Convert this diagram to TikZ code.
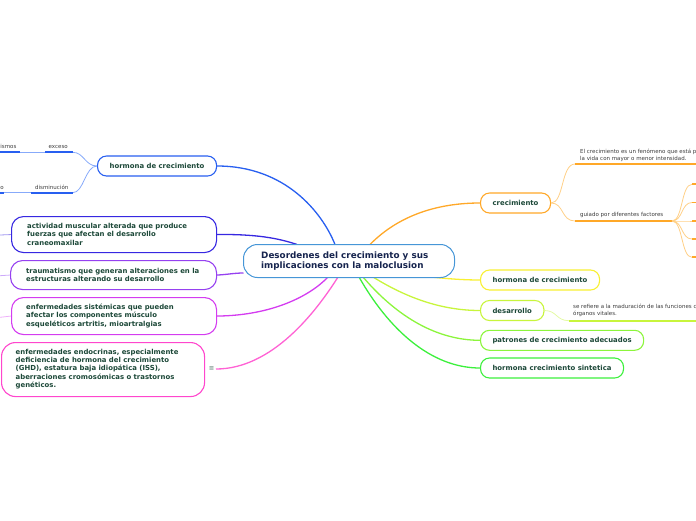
\documentclass[tikz,border=0pt]{standalone}
\usepackage{fontspec}
\setmainfont{DejaVu Sans}
\definecolor{txtg}{RGB}{28,72,56}
\definecolor{navy}{RGB}{22,36,78}
\definecolor{lblc}{RGB}{60,60,60}
\definecolor{cblue}{RGB}{40,95,240}
\definecolor{cblueL}{RGB}{135,170,250}
\definecolor{cindigo}{RGB}{55,40,225}
\definecolor{cindigoL}{RGB}{160,150,240}
\definecolor{cpurple}{RGB}{150,65,240}
\definecolor{cpurpleL}{RGB}{205,170,250}
\definecolor{cviolet}{RGB}{212,60,240}
\definecolor{cvioletL}{RGB}{238,175,250}
\definecolor{cpink}{RGB}{255,70,205}
\definecolor{corange}{RGB}{255,168,40}
\definecolor{corangeL}{RGB}{255,208,135}
\definecolor{cyellow}{RGB}{248,240,50}
\definecolor{clime}{RGB}{200,245,60}
\definecolor{climeL}{RGB}{228,250,165}
\definecolor{cgreen}{RGB}{140,245,60}
\definecolor{cgreen2}{RGB}{60,240,60}
\definecolor{ccenter}{RGB}{70,150,215}
\begin{document}
\begin{tikzpicture}[x=1pt,y=-1pt,
 bigbox/.style={draw, fill=white, line width=1.1pt, inner sep=0pt, anchor=north west, rounded corners=12pt},
 topic/.style={draw, fill=white, line width=1.1pt, rounded corners=9pt, anchor=west, inner xsep=12pt, inner ysep=0pt, minimum height=20pt, text=txtg, font=\fontsize{6.9}{8.7}\selectfont\bfseries},
 ghost/.style={draw opacity=0, fill opacity=0, text opacity=0},
 btext/.style={anchor=west, inner sep=0pt, align=left, text=txtg, font=\fontsize{6.9}{8.7}\selectfont\bfseries},
 lbl/.style={anchor=base west, inner sep=0pt, text=lblc, font=\fontsize{5.5}{6.5}\selectfont},
 conn/.style={line width=1.3pt},
 subc/.style={line width=0.8pt},
 uline/.style={line width=1.8pt},
]
\useasboundingbox (0,0) rectangle (696,520);

% ---------- coordinates at the central box ----------
\coordinate (cBlue) at (335,244.5);
\coordinate (cInd) at (297,244.5);
\coordinate (cPur) at (243.5,273);
\coordinate (cVio) at (328,277);
\coordinate (cPnk) at (338,277);
\coordinate (cOra) at (370,244.5);
\coordinate (cYel) at (431,277);
\coordinate (cLim) at (373,277);
\coordinate (cGrn) at (363,277);
\coordinate (cGr2) at (359,277);

% ---------- invisible anchors for connectors ----------
\path (97,166) node[topic, ghost, minimum width=119pt] (hl) {hormona de crecimiento};
\path (11,216) node[bigbox, ghost, minimum width=205pt, minimum height=36pt] (act) {};
\path (10,260) node[bigbox, ghost, minimum width=206pt, minimum height=29pt] (tra) {};
\path (11,297) node[bigbox, ghost, minimum width=205pt, minimum height=37pt] (sis) {};
\path (480,203) node[topic, ghost, minimum width=70pt] (crec) {crecimiento};
\path (480,280) node[topic, ghost, minimum width=119pt] (hr) {hormona de crecimiento};
\path (480,310.5) node[topic, ghost, minimum width=63pt] (des) {desarrollo};
\path (480,340.3) node[topic, ghost, minimum width=163pt] (pat) {patrones de crecimiento adecuados};
\path (480,368) node[topic, ghost, minimum width=143pt] (sin) {hormona crecimiento sintetica};
\coordinate (endout) at (216,369);

% ---------- main connectors ----------
\draw[conn, cblue] (hl.east) .. controls (285,166) and (322,212) .. (cBlue);
\draw[conn, cindigo] (act.east) .. controls (255,234) and (278,238) .. (cInd);
\draw[conn, cpurple] (tra.east) .. controls (228,274.5) and (234,273) .. (cPur);
\draw[conn, cviolet] (sis.east) .. controls (272,315.5) and (310,296) .. (cVio);
\draw[conn, cpink!85] (endout) .. controls (272,369) and (316,312) .. (cPnk);
\draw[conn, corange] (cOra) .. controls (400,214) and (440,203) .. (crec.west);
\draw[conn, cyellow] (cYel) .. controls (450,279) and (465,280) .. (hr.west);
\draw[conn, clime] (cLim) .. controls (410,300) and (445,310.5) .. (des.west);
\draw[conn, cgreen] (cGrn) .. controls (398,318) and (438,340.3) .. (pat.west);
\draw[conn, cgreen2] (cGr2) .. controls (388,328) and (430,368) .. (sin.west);

% ---------- left stubs ----------
\coordinate (sA) at (0,235);
\coordinate (sT) at (0,275.7);
\coordinate (sS) at (0,317.3);
\draw[subc, cindigoL] (sA) -- (act.west);
\draw[subc, cpurpleL] (sT) -- (tra.west);
\draw[subc, cvioletL] (sS) -- (sis.west);

% ---------- left boxes ----------
\node[bigbox, draw=cindigo, minimum width=205pt, minimum height=36pt] (actb) at (11,216) {};
\node[btext] (actt) at (27,234.3) {actividad muscular alterada que produce\\fuerzas que afectan el desarrollo\\craneomaxilar};
\node[bigbox, draw=cpurple, minimum width=206pt, minimum height=29pt] (trab) at (10,260) {};
\node[btext] (trat) at (26,275) {traumatismo que generan alteraciones en la\\estructuras alterando su desarrollo};
\node[bigbox, draw=cviolet, minimum width=205pt, minimum height=37pt] (sisb) at (11,297) {};
\node[btext] (sist) at (26,315.8) {enfermedades sistémicas que pueden\\afectar los componentes músculo\\esqueléticos artritis, mioartralgias};
\node[bigbox, draw=cpink, minimum width=203pt, minimum height=54pt, rounded corners=14pt] (endb) at (1,342) {};
\node[btext, font=\fontsize{6.9}{8.35}\selectfont\bfseries] (endt) at (15.5,369) {enfermedades endocrinas, especialmente\\deficiencia de hormona del crecimiento\\(GHD), estatura baja idiopática (ISS),\\aberraciones cromosómicas o trastornos\\genéticos.};
\node[anchor=center, inner sep=0pt, text=txtg!80, font=\fontsize{6.5}{7}\selectfont] (endic) at (211.5,368.8) {≡};

% ---------- left sub-branches of hormona ----------
\coordinate (e0) at (0,152.3);
\coordinate (e1) at (19.5,152.3);
\coordinate (e2) at (45,152.3);
\coordinate (e3) at (72.7,152.3);
\coordinate (d0) at (0,192.7);
\coordinate (d1) at (4,192.7);
\coordinate (d2) at (30.7,192.7);
\coordinate (d3) at (72.7,192.7);
\draw[subc, cblueL] (e3) .. controls (84,152.3) and (85,166) .. (hl.west);
\draw[subc, cblueL] (d3) .. controls (84,192.7) and (85,166) .. (hl.west);
\draw[subc, cblueL] (e1) -- (e2);
\draw[subc, cblueL] (d1) -- (d2);
\draw[uline, cblue] (e0) -- (e1);
\draw[uline, cblue] (e2) -- (e3);
\draw[uline, cblue] (d0) -- (d1);
\draw[uline, cblue] (d2) -- (d3);
\node[lbl] (lism) at (0.2,148.2) {ismos};
\node[lbl] (lexc) at (48.5,148.2) {exceso};
\node[lbl] (lo) at (0.2,189.2) {o};
\node[lbl] (ldis) at (35,189.2) {disminución};
\node[topic, draw=cblue, minimum width=119pt] (hlb) at (97,166) {hormona de crecimiento};

% ---------- right boxes ----------
\node[topic, draw=corange, minimum width=70pt] (crecb) at (480,203) {crecimiento};
\node[topic, draw=cyellow, minimum width=119pt] (hrb) at (480,280) {hormona de crecimiento};
\node[topic, draw=clime, minimum width=63pt] (desb) at (480,310.5) {desarrollo};
\node[topic, draw=cgreen, minimum width=163pt] (patb) at (480,340.3) {patrones de crecimiento adecuados};
\node[topic, draw=cgreen2, minimum width=143pt] (sinb) at (480,368) {hormona crecimiento sintetica};

% ---------- right sub-branches ----------
\coordinate (c1) at (575,164);
\coordinate (c1e) at (696,164);
\coordinate (g1) at (575,221);
\coordinate (g2) at (672,221);
\draw[subc, corangeL] (crec.east) .. controls (564,203) and (561,164) .. (c1);
\draw[subc, corangeL] (crec.east) .. controls (564,203) and (561,221) .. (g1);
\draw[uline, corange] (c1) -- (c1e);
\draw[uline, corange] (g1) -- (g2);
\node[lbl] (ct1) at (580,153.3) {El crecimiento es un fenómeno que está p};
\node[lbl] (ct2) at (580,160.6) {la vida con mayor o menor intensidad.};
\node[lbl] (gt) at (580,216.8) {guiado por diferentes factores};
\foreach \yy/\nm in {184.3/f1,202.5/f2,221/f3,239/f4,257.3/f5}{
  \coordinate (\nm a) at (692,\yy);
  \coordinate (\nm b) at (698,\yy);
  \draw[subc, corangeL] (g2) .. controls (683,221) and (681,\yy) .. (\nm a);
  \draw[uline, corange] (\nm a) -- (\nm b);
}
\coordinate (dv1) at (569,320.7);
\coordinate (dv2) at (696,320.7);
\draw[subc, climeL] (des.east) .. controls (557,310.5) and (556,320.7) .. (dv1);
\draw[uline, clime] (dv1) -- (dv2);
\node[lbl] (dt1) at (573,308.6) {se refiere a la maduración de las funciones c};
\node[lbl] (dt2) at (573,315.9) {órganos vitales.};

% ---------- central node ----------
\node[draw=ccenter, line width=1pt, fill=white, rounded corners=14pt, anchor=north west, inner sep=0pt, minimum width=211pt, minimum height=33pt] (center) at (243,244) {};
\node[anchor=west, inner sep=0pt, align=left, text=navy, font=\fontsize{8.8}{10}\selectfont\bfseries] (centert) at (261,260.7) {Desordenes del crecimiento y sus\\implicaciones con la maloclusion};
\end{tikzpicture}
\end{document}
